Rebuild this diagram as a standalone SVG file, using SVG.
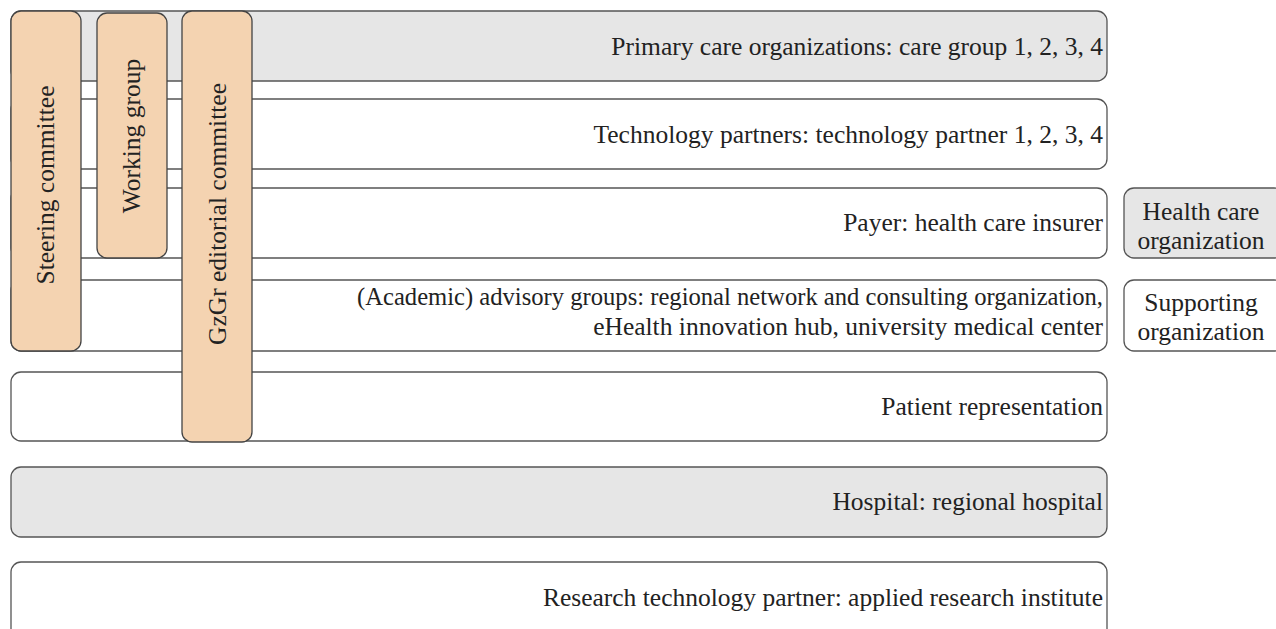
<svg xmlns="http://www.w3.org/2000/svg" width="1276" height="629" viewBox="0 0 1276 629">
  <style>
    .row { stroke: #555; stroke-width: 1.3; }
    .grey { fill: #e6e6e6; }
    .white { fill: #ffffff; }
    .bar { fill: #f4d3b1; stroke: #444; stroke-width: 1.3; }
    text { font-family: "Liberation Serif", "Times New Roman", serif; font-size: 25.5px; fill: #222; }
    .r { text-anchor: end; }
    .c { text-anchor: middle; }
  </style>
  <rect width="1276" height="629" fill="#ffffff"/>

  <!-- organisation rows -->
  <g id="row-primary-care">
    <rect class="row grey" x="11" y="11" width="1096" height="70" rx="10"/>
    <text class="r" x="1103" y="55">Primary care organizations: care group 1, 2, 3, 4</text>
  </g>
  <g id="row-technology">
    <rect class="row white" x="11" y="99" width="1096" height="70" rx="10"/>
    <text class="r" x="1103" y="143">Technology partners: technology partner 1, 2, 3, 4</text>
  </g>
  <g id="row-payer">
    <rect class="row white" x="11" y="188" width="1096" height="70" rx="10"/>
    <text class="r" x="1103" y="231">Payer: health care insurer</text>
  </g>
  <g id="row-advisory">
    <rect class="row white" x="11" y="280" width="1096" height="71" rx="10"/>
    <text class="r" x="1103" y="305" textLength="746" lengthAdjust="spacingAndGlyphs">(Academic) advisory groups: regional network and consulting organization,</text>
    <text class="r" x="1103" y="335">eHealth innovation hub, university medical center</text>
  </g>
  <g id="row-patient">
    <rect class="row white" x="11" y="372" width="1096" height="69" rx="10"/>
    <text class="r" x="1103" y="415">Patient representation</text>
  </g>
  <g id="row-hospital">
    <rect class="row grey" x="11" y="467" width="1096" height="70" rx="10"/>
    <text class="r" x="1103" y="510">Hospital: regional hospital</text>
  </g>
  <g id="row-research">
    <rect class="row white" x="11" y="562" width="1096" height="80" rx="10"/>
    <text class="r" x="1103" y="606">Research technology partner: applied research institute</text>
  </g>

  <!-- committees spanning several rows -->
  <g id="steering-committee">
    <rect class="bar" x="11" y="11" width="70" height="340" rx="10"/>
    <text class="c" transform="translate(54 185) rotate(-90)">Steering committee</text>
  </g>
  <g id="working-group">
    <rect class="bar" x="97" y="13" width="70" height="245" rx="10"/>
    <text class="c" transform="translate(140 136) rotate(-90)">Working group</text>
  </g>
  <g id="editorial-committee">
    <rect class="bar" x="182" y="11" width="70" height="431" rx="10"/>
    <text class="c" transform="translate(226 214) rotate(-90)">GzGr editorial committee</text>
  </g>

  <!-- legend -->
  <g id="legend-health-care">
    <rect class="row grey" x="1124" y="188" width="160" height="70" rx="10"/>
    <text class="c" x="1201" y="220">Health care</text>
    <text class="c" x="1201" y="249">organization</text>
  </g>
  <g id="legend-supporting">
    <rect class="row white" x="1124" y="280" width="160" height="71" rx="10"/>
    <text class="c" x="1201" y="311">Supporting</text>
    <text class="c" x="1201" y="340">organization</text>
  </g>

  <g id="connectors"></g>
</svg>
